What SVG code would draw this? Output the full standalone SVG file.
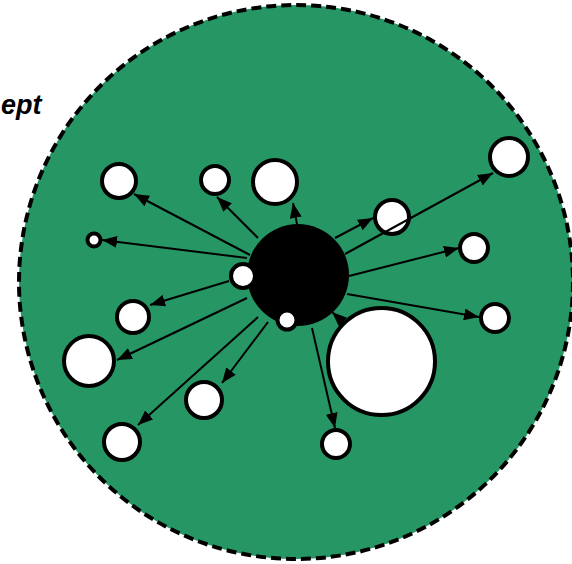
<svg xmlns="http://www.w3.org/2000/svg" width="572" height="564" viewBox="0 0 572 564">
<defs>
<style>
.sat{fill:#ffffff;stroke:#000000;stroke-width:4}
.hub{fill:#000000}
.ln{stroke:#000000;stroke-width:2;fill:none;marker-end:url(#ah)}
.lbl{font-family:"Liberation Sans",Arial,sans-serif;font-weight:bold;font-style:italic;font-size:27px;fill:#000}
</style>
<marker id="ah" markerUnits="userSpaceOnUse" markerWidth="15" markerHeight="12" refX="15" refY="6" orient="auto">
<path d="M0,0 L15,6 L0,12 z" fill="#000"/>
</marker>
</defs>
<rect width="572" height="564" fill="#ffffff"/>
<text class="lbl" x="1" y="114">ept</text>
<g id="boundary">
<circle cx="296" cy="282" r="277" fill="#259664" stroke="#000" stroke-width="4" stroke-dasharray="10,5"/>
</g>
<g id="hub"><circle class="hub" cx="298" cy="275" r="51"/></g>
<g id="hub-left"><circle class="sat" cx="243" cy="276" r="12"/></g>
<g id="hub-bottom"><circle class="sat" cx="287" cy="320" r="9.5"/></g>
<g id="n1"><circle class="sat" cx="119" cy="181" r="17"/></g>
<g id="n2"><circle class="sat" cx="215" cy="180" r="14"/></g>
<g id="n3"><circle class="sat" cx="275" cy="182" r="22"/></g>
<g id="n4"><circle class="sat" cx="94" cy="240" r="6.5"/></g>
<g id="n5"><circle class="sat" cx="133" cy="317" r="16"/></g>
<g id="n6"><circle class="sat" cx="89" cy="361" r="25"/></g>
<g id="n7"><circle class="sat" cx="204" cy="400" r="18"/></g>
<g id="n8"><circle class="sat" cx="122" cy="442" r="18"/></g>
<g id="n9"><circle class="sat" cx="336" cy="444" r="14"/></g>
<g id="n10"><circle class="sat" cx="381.5" cy="361.5" r="53.5"/></g>
<g id="n11"><circle class="sat" cx="495" cy="318" r="14"/></g>
<g id="n12"><circle class="sat" cx="474" cy="248" r="14"/></g>
<g id="n13"><circle class="sat" cx="392" cy="217" r="17"/></g>
<g id="n14"><circle class="sat" cx="509" cy="157" r="19"/></g>
<g id="connectors">
<line class="ln" x1="250" y1="255" x2="134" y2="194"/>
<line class="ln" x1="258" y1="238" x2="217" y2="197"/>
<line class="ln" x1="297" y1="224" x2="293" y2="203"/>
<line class="ln" x1="247" y1="258" x2="102" y2="240"/>
<line class="ln" x1="229" y1="281" x2="150" y2="305"/>
<line class="ln" x1="247" y1="298" x2="117" y2="360"/>
<line class="ln" x1="268" y1="322" x2="222" y2="383"/>
<line class="ln" x1="258" y1="317" x2="138" y2="425"/>
<line class="ln" x1="312" y1="328" x2="335" y2="428"/>
<line class="ln" x1="345" y1="324" x2="332" y2="312"/>
<line class="ln" x1="347" y1="294" x2="479" y2="317"/>
<line class="ln" x1="349" y1="276" x2="459" y2="248"/>
<line class="ln" x1="335" y1="238" x2="373" y2="218"/>
<line class="ln" x1="345" y1="254" x2="493" y2="173"/>
</g>
</svg>
